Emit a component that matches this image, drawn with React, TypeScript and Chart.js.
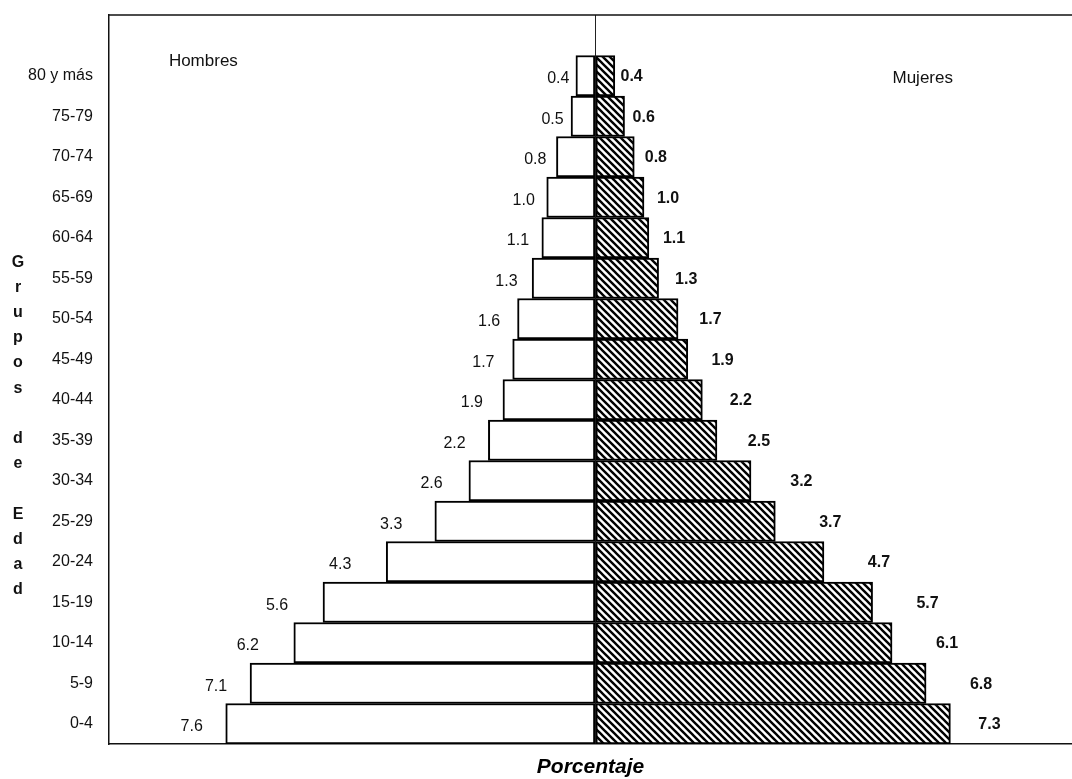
import React, { useEffect, useRef } from 'react';
import { Chart, registerables } from 'chart.js';

Chart.register(...registerables);

// ---- Data (top of pyramid first) ----
const AGE_GROUPS = ['80 y más', '75-79', '70-74', '65-69', '60-64', '55-59', '50-54', '45-49', '40-44', '35-39', '30-34', '25-29', '20-24', '15-19', '10-14', '5-9', '0-4'];
const HOMBRES = [0.4, 0.5, 0.8, 1.0, 1.1, 1.3, 1.6, 1.7, 1.9, 2.2, 2.6, 3.3, 4.3, 5.6, 6.2, 7.1, 7.6];
const MUJERES = [0.4, 0.6, 0.8, 1.0, 1.1, 1.3, 1.7, 1.9, 2.2, 2.5, 3.2, 3.7, 4.7, 5.7, 6.1, 6.8, 7.3];
const SERIES_NAMES = ['Hombres', 'Mujeres'];
const Y_TITLE = 'Grupos de Edad';
const X_TITLE = 'Porcentaje';
const X_MIN = -10;
const X_MAX = 9.8;

const FONT = '"Liberation Sans", Arial, Helvetica, sans-serif';

function makeHatch(): CanvasPattern | string {
  const p = 7;
  const c = document.createElement('canvas');
  c.width = p;
  c.height = p;
  const g = c.getContext('2d');
  if (!g) return '#888';
  g.fillStyle = '#fff';
  g.fillRect(0, 0, p, p);
  g.strokeStyle = '#000';
  g.lineWidth = 2.4;
  g.lineCap = 'square';
  for (const x0 of [-p, 0, p]) {
    g.beginPath();
    g.moveTo(x0 - 1, -1);
    g.lineTo(x0 + p + 1, p + 1);
    g.stroke();
  }
  const pat = g.createPattern(c, 'repeat');
  return pat || '#888';
}

const framePlugin = {
  id: 'frame',
  afterDraw(chart: any) {
    const { ctx, chartArea } = chart;
    ctx.save();
    // top border
    ctx.strokeStyle = '#111';
    ctx.lineWidth = 1.5;
    ctx.beginPath();
    ctx.moveTo(chartArea.left, chartArea.top);
    ctx.lineTo(chartArea.right, chartArea.top);
    ctx.stroke();

    // series names inside plot
    ctx.fillStyle = '#111';
    ctx.font = `17px ${FONT}`;
    ctx.textAlign = 'center';
    ctx.textBaseline = 'middle';
    const w = chartArea.right - chartArea.left;
    ctx.fillText(SERIES_NAMES[0], chartArea.left + w * 0.098, chartArea.top + 46);
    ctx.fillText(SERIES_NAMES[1], chartArea.left + w * 0.845, chartArea.top + 63);

    // stacked vertical title
    ctx.font = `bold 16px ${FONT}`;
    const letters = Y_TITLE.split('');
    const step = 25.2;
    const midY = (chartArea.top + chartArea.bottom) / 2 + 46.5;
    const startY = midY - ((letters.length - 1) * step) / 2;
    letters.forEach((ch, i) => {
      if (ch.trim()) ctx.fillText(ch, 18, startY + i * step);
    });
    ctx.restore();
  },
};

const valueLabelsPlugin = {
  id: 'valueLabels',
  afterDatasetsDraw(chart: any) {
    const { ctx } = chart;
    ctx.save();
    ctx.textAlign = 'center';
    ctx.textBaseline = 'middle';
    ctx.fillStyle = '#111';
    chart.data.datasets.forEach((ds: any, di: number) => {
      const meta = chart.getDatasetMeta(di);
      meta.data.forEach((el: any, i: number) => {
        const raw = ds.data[i];
        if (raw == null) return;
        const v = Math.abs(raw);
        const txt = v.toFixed(1);
        if (di === 0) {
          ctx.font = `16px ${FONT}`;
          const gap = Math.min(14 + 9 * v, 46) - (v > 6.5 ? 12 : 0);
          ctx.fillText(txt, el.x - gap, el.y + 3);
        } else {
          ctx.font = `bold 16px ${FONT}`;
          const gap = Math.min(12 + 12 * v, 55) - (v > 7 ? 16 : 0);
          ctx.fillText(txt, el.x + gap, el.y + 1);
        }
      });
    });
    ctx.restore();
  },
};

function PyramidChart() {
  const ref = useRef<HTMLCanvasElement | null>(null);

  useEffect(() => {
    if (!ref.current) return;
    const hatch = makeHatch();
    const labels = ['', ...AGE_GROUPS];
    const men = [null, ...HOMBRES.map((v) => -v)];
    const women = [null, ...MUJERES];

    const chart = new Chart(ref.current, {
      type: 'bar',
      data: {
        labels,
        datasets: [
          {
            label: SERIES_NAMES[0],
            data: men as any,
            backgroundColor: '#ffffff',
            borderColor: '#000000',
            borderWidth: 2,
            borderSkipped: false,
            barPercentage: 1,
            categoryPercentage: 1,
          },
          {
            label: SERIES_NAMES[1],
            data: women as any,
            backgroundColor: hatch as any,
            borderColor: '#000000',
            borderWidth: 2,
            borderSkipped: false,
            barPercentage: 1,
            categoryPercentage: 1,
          },
        ],
      },
      options: {
        indexAxis: 'y',
        responsive: false,
        animation: false,
        layout: { padding: { top: 15, left: 0, right: 0, bottom: 0 } },
        plugins: {
          legend: { display: false },
          tooltip: { enabled: false },
          title: { display: false },
        },
        scales: {
          x: {
            type: 'linear',
            stacked: true,
            min: X_MIN,
            max: X_MAX,
            ticks: { display: false, stepSize: 1 },
            grid: {
              drawTicks: false,
              color: (c: any) => (c.tick && c.tick.value === 0 ? '#222' : 'rgba(0,0,0,0)'),
              lineWidth: 1,
            },
            border: { display: true, color: '#111', width: 1.5 },
            title: {
              display: true,
              text: X_TITLE,
              color: '#000',
              font: { family: FONT, size: 21, weight: 'bold', style: 'italic', lineHeight: 1 },
              padding: { top: 13, bottom: 1 },
            },
          },
          y: {
            type: 'category',
            stacked: true,
            grid: { display: false, drawTicks: false },
            border: { display: true, color: '#111', width: 1.5 },
            ticks: {
              color: '#111',
              padding: 16,
              font: { family: FONT, size: 16 },
              autoSkip: false,
            },
            afterFit: (scale: any) => {
              scale.width = 109;
              scale.paddingTop = 0;
              scale.paddingBottom = 0;
            },
          },
        },
      },
      plugins: [framePlugin, valueLabelsPlugin],
    });

    return () => chart.destroy();
  }, []);

  return <canvas ref={ref} width={1072} height={779} style={{ display: 'block' }} />;
}

export default function App() {
  return (
    <div style={{ position: 'fixed', left: 0, top: 0, width: 1072, height: 779, background: '#fff' }}>
      <PyramidChart />
    </div>
  );
}
